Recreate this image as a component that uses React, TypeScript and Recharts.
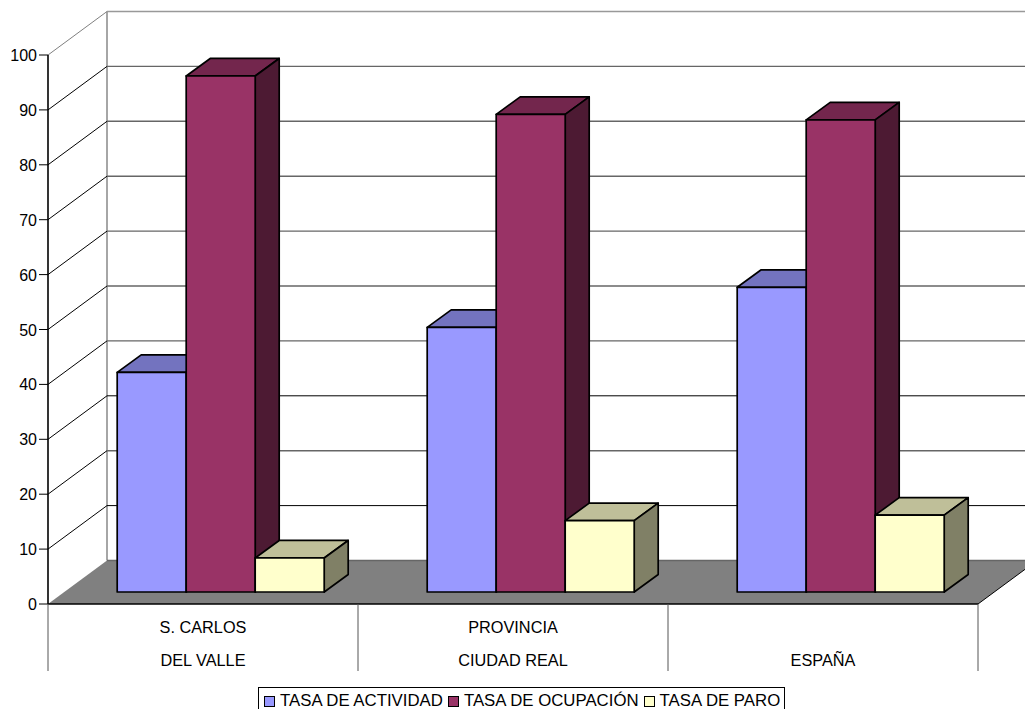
import React from "react";
import { BarChart, Bar, XAxis, YAxis, CartesianGrid, Legend } from "recharts";

const FONT = "'Liberation Sans', Arial, sans-serif";

const categories = ["S. CARLOS\nDEL VALLE", "PROVINCIA\nCIUDAD REAL", "\nESPAÑA"];
const tasaActividad = [40, 48.2, 55.5];
const tasaOcupacion = [94, 87, 86];
const tasaParo = [6.2, 13, 14];
const yTicks = [0, 10, 20, 30, 40, 50, 60, 70, 80, 90, 100];

const rows = categories.map((name, i) => ({
  name,
  actividad: tasaActividad[i],
  ocupacion: tasaOcupacion[i],
  paro: tasaParo[i],
}));

const WIDTH = 1025;
const HEIGHT = 709;
const PLOT_LEFT = 48;
const PLOT_RIGHT = 978;
const PLOT_TOP = 55;
const PLOT_BOTTOM = 604;
const PLOT_H = PLOT_BOTTOM - PLOT_TOP;
const BAND = (PLOT_RIGHT - PLOT_LEFT) / categories.length;

// Depth of the floor and side wall
const WALL_DX = 59;
const WALL_DY = -43.5;
// Bars stand part way back on the floor
const BAR_DX = 17.2;
const BAR_DY = -12;
// Depth of each bar's own prism
const PRISM_DX = 24;
const PRISM_DY = -17.5;

const Prism = (props: any) => {
  const { x, y, width, height, fill, topFill, sideFill } = props;
  const l = x + BAR_DX;
  const t = y + BAR_DY;
  const r = l + width;
  const b = t + height;
  const edge = { stroke: "#000", strokeWidth: 1.7, strokeLinejoin: "round" as const };
  return (
    <g>
      <polygon
        points={`${l},${t} ${l + PRISM_DX},${t + PRISM_DY} ${r + PRISM_DX},${t + PRISM_DY} ${r},${t}`}
        fill={topFill}
        {...edge}
      />
      <polygon
        points={`${r},${t} ${r + PRISM_DX},${t + PRISM_DY} ${r + PRISM_DX},${b + PRISM_DY} ${r},${b}`}
        fill={sideFill}
        {...edge}
      />
      <rect x={l} y={t} width={width} height={height} fill={fill} {...edge} />
    </g>
  );
};

// Each grid tick draws its back-wall line and the diagonal on the side wall;
// the zero tick also lays down the floor and the wall's vertical edge.
const WallLine = (props: any) => {
  const { y1, index } = props;
  const backY = y1 + WALL_DY;
  const backX = PLOT_LEFT + WALL_DX;
  const level = Math.round(((PLOT_BOTTOM - y1) / PLOT_H) * 100);
  const isFloor = level === 0;
  const isTop = level === 100;
  const dark = level === 10 || level === 30;
  const backStroke = isTop ? "#999" : dark ? "#000" : "#666";
  const backWidth = dark ? 1 : 1.4;
  return (
    <g key={`wall-${index}`}>
      {isFloor && (
        <>
          <polygon
            points={`${PLOT_LEFT},${y1} ${backX},${backY} ${PLOT_RIGHT + WALL_DX},${backY} ${PLOT_RIGHT},${y1}`}
            fill="#808080"
          />
          <line x1={PLOT_RIGHT} y1={y1} x2={PLOT_RIGHT + WALL_DX} y2={backY} stroke="#000" />
          <line x1={backX} y1={backY} x2={backX} y2={backY - PLOT_H} stroke="#808080" strokeWidth={1.4} />
        </>
      )}
      <line x1={backX} y1={backY} x2={WIDTH} y2={backY} stroke={backStroke} strokeWidth={backWidth} />
      {!isFloor && (
        <line x1={PLOT_LEFT} y1={y1} x2={backX} y2={backY} stroke={isTop ? "#808080" : "#000"} strokeWidth={1} />
      )}
    </g>
  );
};

const CategoryTick = (props: any) => {
  const { x, payload, index } = props;
  const [first, second] = String(payload.value).split("\n");
  const top = PLOT_BOTTOM;
  const textStyle = { fontFamily: FONT, fontSize: 16.3, fill: "#000", textAnchor: "middle" as const };
  return (
    <g>
      <line x1={x - BAND / 2} y1={top} x2={x - BAND / 2} y2={top + 67} stroke="#555" />
      {index === categories.length - 1 && (
        <line x1={x + BAND / 2} y1={top} x2={x + BAND / 2} y2={top + 67} stroke="#555" />
      )}
      {first && (
        <text x={x} y={top + 29} {...textStyle}>
          {first}
        </text>
      )}
      <text x={x} y={top + 62} {...textStyle}>
        {second}
      </text>
    </g>
  );
};

const LegendBox = ({ payload }: any) => (
  <div
    style={{
      boxSizing: "border-box",
      width: 527,
      height: 30,
      border: "1px solid #000",
      display: "flex",
      paddingLeft: 5,
      paddingTop: 4,
      fontFamily: FONT,
      fontSize: 16.8,
      lineHeight: "18px",
      color: "#000",
      whiteSpace: "nowrap",
      background: "#fff",
    }}
  >
    {(payload || []).map((item: any) => (
      <span key={item.value} style={{ display: "flex", alignItems: "center", marginRight: 5, height: 18 }}>
        <span
          style={{
            display: "inline-block",
            boxSizing: "border-box",
            width: 11,
            height: 11,
            background: item.color,
            border: "1.5px solid #000",
            marginRight: 5,
          }}
        />
        {item.value}
      </span>
    ))}
  </div>
);

const ValueTick = (props: any) => {
  const { x, y, payload } = props;
  return (
    <text x={x + 1} y={y + 6} textAnchor="end" fontFamily={FONT} fontSize={16} fill="#000">
      {payload.value}
    </text>
  );
};

export default function App() {
  return (
    <div style={{ position: "absolute", left: 0, top: 0, width: WIDTH, height: HEIGHT, overflow: "hidden", background: "#fff" }}>
      <BarChart
        width={WIDTH}
        height={HEIGHT}
        data={rows}
        barSize={69}
        barGap={0}
        margin={{ top: PLOT_TOP, right: WIDTH - PLOT_RIGHT, bottom: 8, left: 0 }}
      >
        <CartesianGrid vertical={false} horizontal={WallLine} syncWithTicks />
        <XAxis
          dataKey="name"
          height={67}
          interval={0}
          tickLine={false}
          axisLine={{ stroke: "#000", strokeWidth: 1.6 }}
          tick={CategoryTick}
        />
        <YAxis
          width={PLOT_LEFT}
          domain={[0, 100]}
          ticks={yTicks}
          interval={0}
          tickSize={9}
          tickMargin={3}
          axisLine={{ stroke: "#000", strokeWidth: 1.6 }}
          tickLine={{ stroke: "#000" }}
          tick={ValueTick}
        />
        <Legend
          content={LegendBox}
          wrapperStyle={{ left: 258, top: 687, width: 527, height: 30 }}
        />
        <Bar
          dataKey="actividad"
          name="TASA DE ACTIVIDAD"
          fill="#9999FF"
          isAnimationActive={false}
          shape={(p: any) => <Prism {...p} topFill="#7373BF" sideFill="#4D4D80" />}
        />
        <Bar
          dataKey="ocupacion"
          name="TASA DE OCUPACIÓN"
          fill="#993366"
          isAnimationActive={false}
          shape={(p: any) => <Prism {...p} topFill="#73264D" sideFill="#4D1A33" />}
        />
        <Bar
          dataKey="paro"
          name="TASA DE PARO"
          fill="#FFFFCC"
          isAnimationActive={false}
          shape={(p: any) => <Prism {...p} topFill="#BFBF99" sideFill="#808066" />}
        />
      </BarChart>
    </div>
  );
}
